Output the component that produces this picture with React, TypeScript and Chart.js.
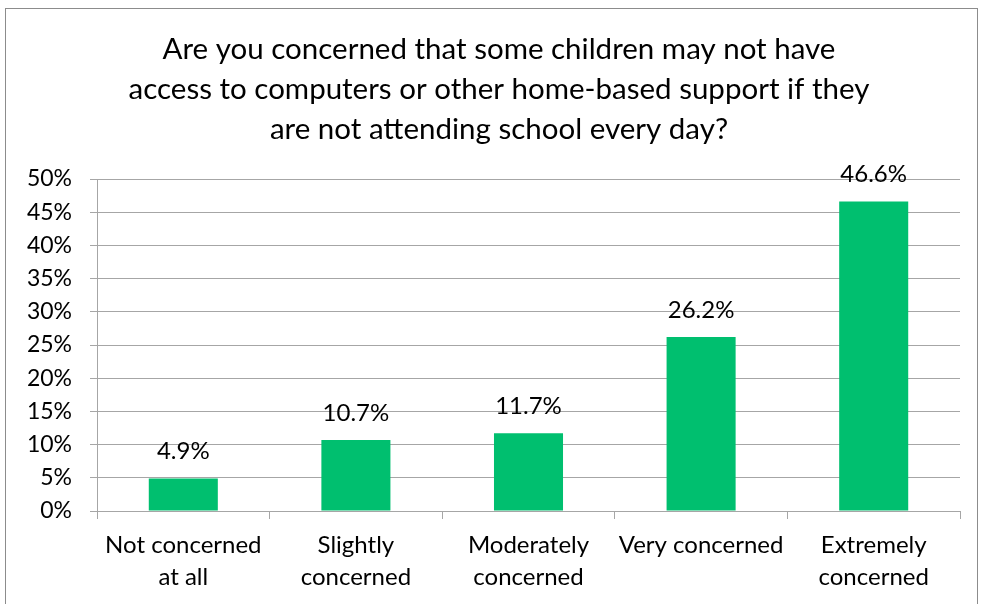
import React, { useEffect, useRef } from "react";
import { Chart, registerables } from "chart.js";

Chart.register(...registerables);

const titleLines = [
  "Are you concerned that some children may not have",
  "access to computers or other home-based support if they",
  "are not attending school every day?",
];
const categories = [
  ["Not concerned", "at all"],
  ["Slightly", "concerned"],
  ["Moderately", "concerned"],
  ["Very concerned"],
  ["Extremely", "concerned"],
];
const values = [4.9, 10.7, 11.7, 26.2, 46.6];
const valueLabels = ["4.9%", "10.7%", "11.7%", "26.2%", "46.6%"];
const yMax = 50;
const yStep = 5;

const FONT = "Lato, 'Open Sans', sans-serif";
const GRID = "#a6a6a6";

const framePlugin = {
  id: "frame",
  beforeDraw(chart: any) {
    const ctx = chart.ctx;
    ctx.save();
    ctx.fillStyle = "#ffffff";
    ctx.fillRect(0, 0, chart.width, chart.height);
    ctx.strokeStyle = "#8c8c8c";
    ctx.lineWidth = 1;
    ctx.strokeRect(5.5, 8.5, 972, 640);
    ctx.restore();
  },
  afterDraw(chart: any) {
    const ctx = chart.ctx;
    ctx.save();
    ctx.fillStyle = "#000";
    ctx.font = `29.5px ${FONT}`;
    ctx.textAlign = "center";
    ctx.textBaseline = "middle";
    titleLines.forEach((t, i) => ctx.fillText(t, 499, 49 + i * 40));
    ctx.restore();
  },
};

const valueLabelPlugin = {
  id: "valueLabels",
  afterDatasetsDraw(chart: any) {
    const ctx = chart.ctx;
    const meta = chart.getDatasetMeta(0);
    ctx.save();
    ctx.fillStyle = "#000";
    ctx.font = `24px ${FONT}`;
    ctx.textAlign = "center";
    ctx.textBaseline = "middle";
    meta.data.forEach((bar: any, i: number) => {
      ctx.fillText(valueLabels[i], bar.x, bar.y - 27);
    });
    ctx.restore();
  },
};

export default function App() {
  const ref = useRef<HTMLCanvasElement | null>(null);
  useEffect(() => {
    if (!ref.current) return;
    const chart = new Chart(ref.current, {
      type: "bar",
      data: {
        labels: categories,
        datasets: [
          {
            data: values,
            backgroundColor: "#00bf6f",
            borderWidth: 0,
            barPercentage: 0.4,
            categoryPercentage: 1,
          },
        ],
      },
      options: {
        animation: false,
        responsive: false,
        devicePixelRatio: 1,
        layout: { padding: { top: 179, right: 22, left: 0, bottom: 0 } },
        plugins: {
          legend: { display: false },
          title: { display: false },
          tooltip: { enabled: false },
        },
        scales: {
          x: {
            offset: true,
            grid: {
              offset: true,
              drawOnChartArea: false,
              drawTicks: true,
              tickLength: 8,
              color: GRID,
            },
            border: { display: true, color: GRID },
            ticks: {
              color: "#000",
              font: { family: FONT, size: 24, lineHeight: 1.33 },
              padding: 10,
              maxRotation: 0,
              autoSkip: false,
            },
            afterFit(scale: any) {
              scale.height = 93;
            },
          },
          y: {
            min: 0,
            max: yMax,
            grid: { color: GRID, tickLength: 7, drawTicks: true },
            border: { display: true, color: GRID },
            ticks: {
              stepSize: yStep,
              color: "#000",
              font: { family: FONT, size: 23 },
              padding: 18,
              callback: (v: any) => `${v}%`,
            },
            afterFit(scale: any) {
              scale.width = 97;
            },
          },
        },
      },
      plugins: [framePlugin, valueLabelPlugin],
    });
    return () => chart.destroy();
  }, []);
  return (
    <div style={{ position: "fixed", left: 0, top: 0, width: 982, height: 604, background: "#fff" }}>
      <canvas ref={ref} width={982} height={604} style={{ display: "block" }} />
    </div>
  );
}
